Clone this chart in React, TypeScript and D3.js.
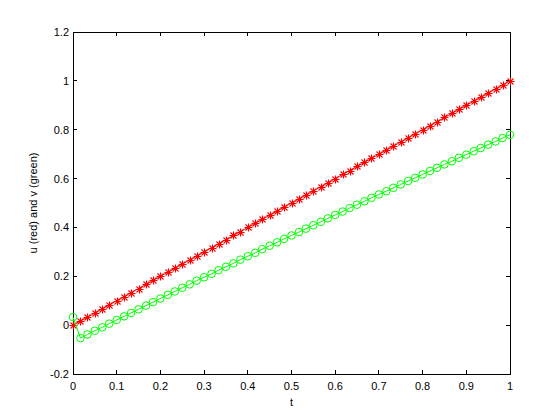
import React from 'react';
import * as d3 from 'd3';

// time samples (61 points)
const tValues = [
  0, 0.017, 0.033, 0.05, 0.067, 0.083, 0.1, 0.117, 0.133, 0.15, 0.167, 0.183, 0.2,
  0.217, 0.233, 0.25, 0.267, 0.283, 0.3, 0.317, 0.333, 0.35, 0.367, 0.383, 0.4,
  0.417, 0.433, 0.45, 0.467, 0.483, 0.5, 0.517, 0.533, 0.55, 0.567, 0.583, 0.6,
  0.617, 0.633, 0.65, 0.667, 0.683, 0.7, 0.717, 0.733, 0.75, 0.767, 0.783, 0.8,
  0.817, 0.833, 0.85, 0.867, 0.883, 0.9, 0.917, 0.933, 0.95, 0.967, 0.983, 1,
];

// u (red)
const uValues = [
  0, 0.017, 0.033, 0.05, 0.067, 0.083, 0.1, 0.117, 0.133, 0.15, 0.167, 0.183, 0.2,
  0.217, 0.233, 0.25, 0.267, 0.283, 0.3, 0.317, 0.333, 0.35, 0.367, 0.383, 0.4,
  0.417, 0.433, 0.45, 0.467, 0.483, 0.5, 0.517, 0.533, 0.55, 0.567, 0.583, 0.6,
  0.617, 0.633, 0.65, 0.667, 0.683, 0.7, 0.717, 0.733, 0.75, 0.767, 0.783, 0.8,
  0.817, 0.833, 0.85, 0.867, 0.883, 0.9, 0.917, 0.933, 0.95, 0.967, 0.983, 1,
];

// v (green)
const vValues = [
  0.033, -0.053, -0.038, -0.023, -0.009, 0.006, 0.021, 0.036, 0.05, 0.065, 0.08,
  0.094, 0.109, 0.124, 0.138, 0.153, 0.167, 0.182, 0.196, 0.21, 0.225, 0.239,
  0.253, 0.268, 0.282, 0.296, 0.311, 0.325, 0.339, 0.353, 0.367, 0.381, 0.395,
  0.409, 0.423, 0.437, 0.451, 0.465, 0.479, 0.493, 0.507, 0.521, 0.535, 0.548,
  0.562, 0.576, 0.59, 0.603, 0.617, 0.631, 0.644, 0.658, 0.671, 0.685, 0.698,
  0.712, 0.725, 0.739, 0.752, 0.766, 0.779,
];

const xTicks = [0, 0.1, 0.2, 0.3, 0.4, 0.5, 0.6, 0.7, 0.8, 0.9, 1];
const yTicks = [-0.2, 0, 0.2, 0.4, 0.6, 0.8, 1, 1.2];

const width = 560;
const height = 420;
const margin = { top: 32, right: 50, bottom: 46, left: 73 };
const font = '"Liberation Sans", Arial, Helvetica, sans-serif';

const App = () => {
  const x = d3.scaleLinear().domain([0, 1]).range([margin.left, width - margin.right]);
  const y = d3.scaleLinear().domain([-0.2, 1.2]).range([height - margin.bottom, margin.top]);

  const x0 = x(0), x1 = x(1), y0 = y(-0.2), y1 = y(1.2);
  const tickLen = 4;

  const line = d3
    .line<number>()
    .x((d, i) => x(tValues[i]))
    .y((d) => y(d));

  const fmt = (v: number) => (Math.abs(v) < 1e-9 ? '0' : String(+v.toFixed(1)));

  return (
    <svg
      width={width}
      height={height}
      style={{ position: 'absolute', left: 0, top: 0, background: '#fff' }}
    >
      {/* axes box (behind the data, like matlab) */}
      <g shapeRendering="crispEdges" stroke="#000" strokeWidth={1}>
        <rect x={x0} y={y1} width={x1 - x0} height={y0 - y1} fill="none" />
        {xTicks.map((t) => (
          <g key={'xt' + t}>
            <line x1={x(t)} x2={x(t)} y1={y0} y2={y0 - tickLen} />
            <line x1={x(t)} x2={x(t)} y1={y1} y2={y1 + tickLen} />
          </g>
        ))}
        {yTicks.map((t) => (
          <g key={'yt' + t}>
            <line x1={x0} x2={x0 + tickLen} y1={y(t)} y2={y(t)} />
            <line x1={x1} x2={x1 - tickLen} y1={y(t)} y2={y(t)} />
          </g>
        ))}
      </g>

      {/* series u */}
      <path d={line(uValues) || ''} fill="none" stroke="#ff0000" strokeWidth={1} />
      {uValues.map((d, i) => {
        const cx = Math.round(x(tValues[i])) + 0.5;
        const cy = Math.round(y(d)) + 0.5;
        const r = 4;
        const rd = 3;
        return (
          <path
            key={'u' + i}
            d={`M${cx - r},${cy}H${cx + r}M${cx},${cy - r}V${cy + r}M${cx - rd},${cy - rd}L${cx + rd},${cy + rd}M${cx - rd},${cy + rd}L${cx + rd},${cy - rd}`}
            stroke="#ff0000"
            strokeWidth={1.1}
            fill="none"
          />
        );
      })}

      {/* series v */}
      <path d={line(vValues) || ''} fill="none" stroke="#00ff00" strokeWidth={1} />
      {vValues.map((d, i) => (
        <circle
          key={'v' + i}
          cx={x(tValues[i])}
          cy={y(d)}
          r={3.8}
          fill="none"
          stroke="#00ff00"
          strokeWidth={1}
        />
      ))}

      <g fontFamily={font} fontSize={11} fill="#000">
        {xTicks.map((t) => (
          <text key={'xl' + t} x={x(t)} y={y0 + 16} textAnchor="middle">
            {fmt(t)}
          </text>
        ))}
        {yTicks.map((t) => (
          <text key={'yl' + t} x={x0 - 4} y={y(t) + 4} textAnchor="end">
            {fmt(t)}
          </text>
        ))}
        <text x={(x0 + x1) / 2} y={y0 + 32} textAnchor="middle">
          t
        </text>
        <text
          transform={`translate(37,${(y0 + y1) / 2}) rotate(-90)`}
          textAnchor="middle"
        >
          u (red) and v (green)
        </text>
      </g>
    </svg>
  );
};

export default App;
